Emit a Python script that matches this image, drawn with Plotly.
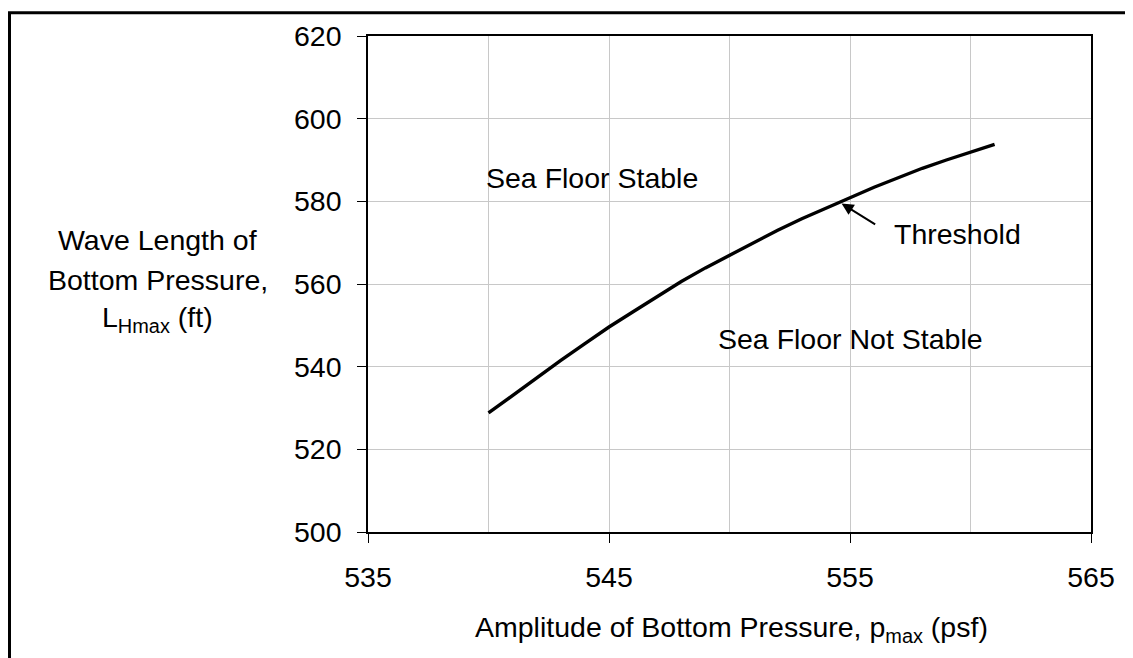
import plotly.graph_objects as go

# Data
p_max = [540, 541, 542, 543, 544, 545, 546, 547, 548, 549, 550,
         551, 552, 553, 554, 555, 556, 557, 558, 559, 560, 561]
L_hmax = [528.8, 533.1, 537.3, 541.5, 545.6, 549.6, 553.3, 557.0, 560.6, 563.9, 567.0,
          570.0, 573.0, 575.8, 578.4, 580.9, 583.4, 585.7, 588.0, 590.0, 592.0, 593.8]

x_range = [535, 565]
y_range = [500, 620]
x_tick_vals = [535, 545, 555, 565]
y_tick_vals = [500, 520, 540, 560, 580, 600, 620]

FONT = "Arial, Liberation Sans, sans-serif"
FS = 28.5

fig = go.Figure()
fig.add_trace(go.Scatter(x=p_max, y=L_hmax, mode="lines",
                         line=dict(color="black", width=3.4), showlegend=False))

# page is offset by the 8px body margin
OFF = 8
W, H = 1133 - OFF, 658 - OFF
L, T = 368 - OFF, 33 - OFF
R = W - (1091 - OFF)
B = H - (532 - OFF)
pw = W - L - R
ph = H - T - B

def px_x(px):
    return (px - OFF - L) / pw

def px_y(py):
    return (H - B - (py - OFF)) / ph

fig.update_layout(
    width=W, height=H,
    margin=dict(l=L, r=R, t=T, b=B, pad=0),
    paper_bgcolor="white", plot_bgcolor="white",
    font=dict(family=FONT, size=FS, color="black"),
    xaxis=dict(range=x_range, tickvals=x_tick_vals, ticks="outside", ticklen=9,
               tickwidth=1, tickcolor="black",
               showgrid=True, gridcolor="#c8c8c8", gridwidth=1,
               minor=dict(dtick=5, tick0=535, showgrid=True, gridcolor="#c8c8c8", gridwidth=1, ticks=""),
               showline=True, linecolor="black", linewidth=1.6, mirror=True,
               zeroline=False, ticklabelstandoff=10,
               tickfont=dict(family=FONT, size=FS)),
    yaxis=dict(range=y_range, tickvals=y_tick_vals, ticks="outside", ticklen=9,
               tickwidth=1, tickcolor="black",
               showgrid=True, gridcolor="#c8c8c8", gridwidth=1,
               showline=True, linecolor="black", linewidth=1.6, mirror=True,
               zeroline=False, ticklabelstandoff=10,
               tickfont=dict(family=FONT, size=FS)),
)

# Outer chart border (cropped on right and bottom)
fig.add_shape(type="rect", xref="paper", yref="paper",
              x0=px_x(9.5), x1=px_x(1133 + 20), y0=px_y(658 + 20), y1=px_y(9.5),
              line=dict(color="black", width=3), fillcolor="rgba(0,0,0,0)", layer="above")

# Y axis title lines
for txt, py in [("Wave Length of", 238), ("Bottom Pressure,", 278),
                ("L<sub>Hmax</sub> (ft)", 318)]:
    fig.add_annotation(xref="paper", yref="paper", x=px_x(158), y=px_y(py),
                       text=txt, showarrow=False, xanchor="center", yanchor="middle",
                       font=dict(family=FONT, size=FS))

# X axis title
fig.add_annotation(xref="paper", yref="paper", x=px_x(731), y=px_y(630),
                   text="Amplitude of Bottom Pressure, p<sub>max</sub> (psf)",
                   showarrow=False, xanchor="center", yanchor="middle",
                   font=dict(family=FONT, size=FS))

# Region labels
fig.add_annotation(x=544.28, y=585.7, text="Sea Floor Stable", showarrow=False,
                   xanchor="center", yanchor="middle", font=dict(family=FONT, size=FS))
fig.add_annotation(x=555.04, y=546.8, text="Sea Floor Not Stable", showarrow=False,
                   xanchor="center", yanchor="middle", font=dict(family=FONT, size=FS))
fig.add_annotation(x=556.74, y=572.2, text="Threshold", showarrow=False,
                   xanchor="left", yanchor="middle", font=dict(family=FONT, size=FS))
# Arrow
fig.add_annotation(x=554.65, y=579.5, ax=35.6, ay=22.3, text=" ", showarrow=True,
                   arrowhead=2, arrowsize=1.2, arrowwidth=2, arrowcolor="black",
                   standoff=0, font=dict(size=2))

fig.write_html("out.html")
